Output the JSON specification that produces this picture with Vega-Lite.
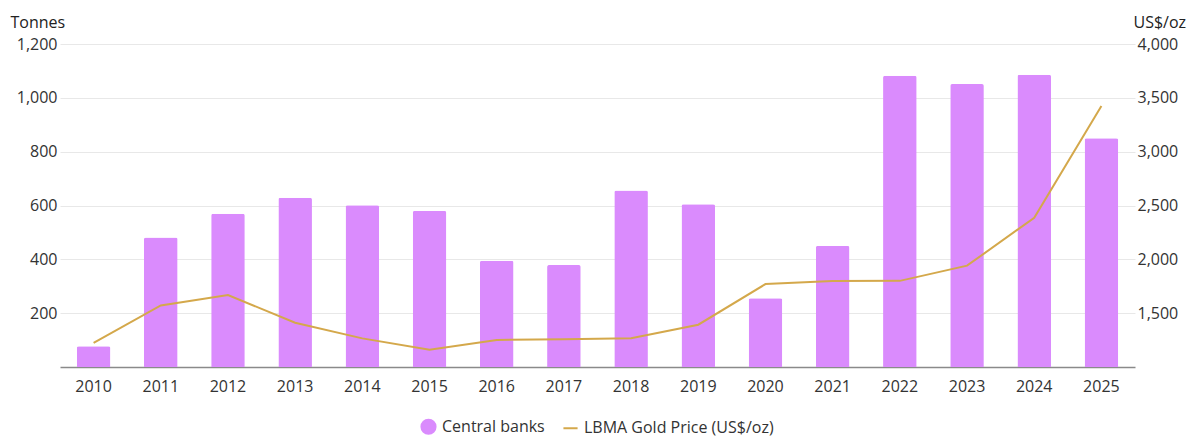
{
  "$schema": "https://vega.github.io/schema/vega-lite/v6.json",
  "width": 1075,
  "height": 323,
  "autosize": {"type": "none"},
  "padding": {"left": 60, "top": 44, "right": 65, "bottom": 80},
  "background": "white",
  "config": {
    "font": "Open Sans",
    "view": {"stroke": null},
    "axis": {"labelFont": "Open Sans", "titleFont": "Open Sans", "labelColor": "#333", "titleColor": "#222"},
    "legend": {"labelFont": "Open Sans"}
  },
  "data": {
    "values": [
      {"year": "2010", "tonnes": 77, "price": 1225},
      {"year": "2011", "tonnes": 481, "price": 1572},
      {"year": "2012", "tonnes": 569, "price": 1669},
      {"year": "2013", "tonnes": 629, "price": 1411},
      {"year": "2014", "tonnes": 601, "price": 1266},
      {"year": "2015", "tonnes": 580, "price": 1160},
      {"year": "2016", "tonnes": 395, "price": 1251},
      {"year": "2017", "tonnes": 379, "price": 1257},
      {"year": "2018", "tonnes": 656, "price": 1268},
      {"year": "2019", "tonnes": 605, "price": 1393},
      {"year": "2020", "tonnes": 255, "price": 1770},
      {"year": "2021", "tonnes": 450, "price": 1799},
      {"year": "2022", "tonnes": 1082, "price": 1800},
      {"year": "2023", "tonnes": 1051, "price": 1941},
      {"year": "2024", "tonnes": 1086, "price": 2386},
      {"year": "2025", "tonnes": 850, "price": 3425}
    ]
  },
  "encoding": {
    "x": {
      "field": "year",
      "type": "ordinal",
      "scale": {"paddingInner": 0.5, "paddingOuter": 0.25},
      "axis": {
        "title": null,
        "labelAngle": 0,
        "labelFontSize": 16,
        "labelPadding": 11,
        "ticks": false,
        "domain": true,
        "domainColor": "#8a8a8a",
        "domainWidth": 1.5,
        "grid": false
      }
    }
  },
  "layer": [
    {
      "mark": {"type": "bar", "color": "#DA8BFD", "cornerRadiusTopLeft": 2, "cornerRadiusTopRight": 2},
      "encoding": {
        "y": {
          "field": "tonnes",
          "type": "quantitative",
          "scale": {"domain": [0, 1200], "nice": false},
          "axis": {
            "values": [200, 400, 600, 800, 1000, 1200],
            "title": "Tonnes",
            "titleAngle": 0,
            "titleAlign": "left",
            "titleBaseline": "alphabetic",
            "titleX": -50,
            "titleY": -17,
            "titleFontSize": 16,
            "titleFontWeight": "normal",
            "labelFontSize": 16,
            "labelPadding": 3,
            "ticks": false,
            "domain": false,
            "grid": true,
            "gridColor": "#e8e8e8",
            "gridWidth": 1
          }
        },
        "color": {
          "datum": "Central banks",
          "type": "nominal",
          "scale": {"domain": ["Central banks", "LBMA Gold Price (US$/oz)"], "range": ["#DA8BFD", "#D4A84B"]},
          "legend": {
            "title": null,
            "orient": "none",
            "legendX": 360,
            "legendY": 374,
            "direction": "horizontal",
            "labelFontSize": 16,
            "labelColor": "#333",
            "labelLimit": 400,
            "symbolSize": 200,
            "columnPadding": 14,
            "labelOffset": 5,
            "encode": {
              "symbols": {
                "update": {
                  "shape": {"signal": "datum.label == 'Central banks' ? 'circle' : 'stroke'"},
                  "fill": {"signal": "datum.label == 'Central banks' ? '#DA8BFD' : 'transparent'"},
                  "stroke": {"signal": "datum.label == 'Central banks' ? '#DA8BFD' : '#D4A84B'"},
                  "strokeWidth": {"value": 2}
                }
              }
            }
          }
        }
      }
    },
    {
      "mark": {"type": "line", "color": "#D4A84B", "strokeWidth": 2},
      "encoding": {
        "y": {
          "field": "price",
          "type": "quantitative",
          "scale": {"domain": [1000, 4000], "nice": false},
          "axis": {
            "orient": "right",
            "values": [1500, 2000, 2500, 3000, 3500, 4000],
            "title": "US$/oz",
            "titleAngle": 0,
            "titleAlign": "left",
            "titleBaseline": "alphabetic",
            "titleX": -2,
            "titleY": -17,
            "titleFontSize": 16,
            "titleFontWeight": "normal",
            "labelFontSize": 16,
            "labelPadding": 2,
            "ticks": false,
            "domain": false,
            "grid": false
          }
        },
        "color": {"datum": "LBMA Gold Price (US$/oz)", "type": "nominal"}
      }
    }
  ],
  "resolve": {"scale": {"y": "independent"}}
}
